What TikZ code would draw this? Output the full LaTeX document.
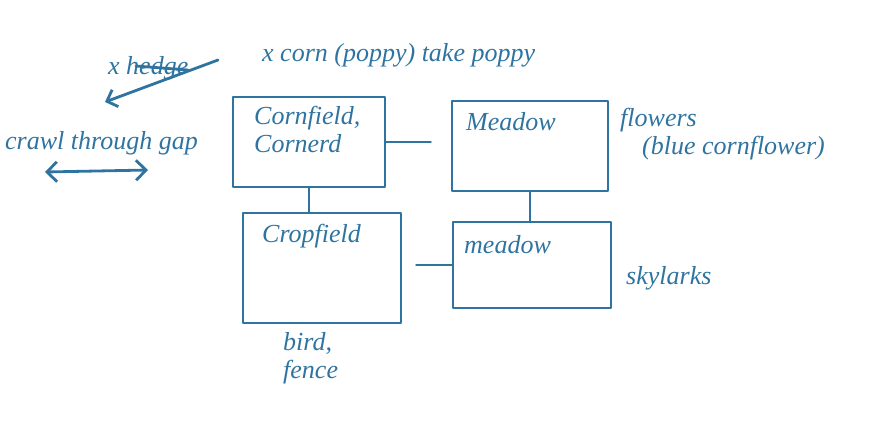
\documentclass[tikz,border=0pt]{standalone}
\usepackage{fontspec}
\setmainfont{Liberation Serif}
\usetikzlibrary{arrows.meta}
\definecolor{ink}{HTML}{2F74A0}
\begin{document}
\begin{tikzpicture}[x=1pt,y=-1pt,
  pen/.style={draw=ink,line width=2.8pt,line cap=round,line join=round},
  fieldbox/.style={pen,rectangle,inner sep=0pt},
  hand/.style={text=ink,font=\itshape\fontsize{26}{28}\selectfont,inner sep=0pt,align=left},
  wire/.style={pen}]
\useasboundingbox (0,0) rectangle (874,421);
% boxes
\node[fieldbox,minimum width=152pt,minimum height=90pt] (A) at (309,142) {};
\node[fieldbox,minimum width=156pt,minimum height=90pt] (B) at (530,146) {};
\node[fieldbox,minimum width=158pt,minimum height=110pt] (C) at (322,268) {};
\node[fieldbox,minimum width=158pt,minimum height=86pt] (D) at (532,265) {};
% box texts
\node[hand,anchor=north west] (At) at (254,106) {Cornfield,\\Cornerd};
\node[hand,anchor=north west] (Bt) at (466,112) {Meadow};
\node[hand,anchor=north west] (Ct) at (262,224) {Cropfield};
\node[hand,anchor=north west] (Dt) at (464,235) {meadow};
% connectors
\draw[wire] (A.east) -- ([xshift=-20pt]A.east -| B.west);
\draw[wire] (A.south) -- (A.south |- C.north);
\draw[wire] (B.south) -- (B.south |- D.north);
\draw[wire] ([xshift=14pt]C.east |- D.west) -- (D.west);
% outside labels
\node[hand,anchor=west] (top) at (262,55) {x corn (poppy) take poppy};
\node[hand,anchor=west] (hedge) at (108,68) {x hedge};
\coordinate (ha1) at (218,60);
\coordinate (ha2) at (105,102);
\draw[wire,-{Straight Barb[length=9pt]}] (ha1) -- (ha2);
\draw[wire] ([xshift=28pt,yshift=2pt]hedge.west) -- ([xshift=80pt,yshift=-2pt]hedge.west);
\node[hand,anchor=west] (gap) at (5,143) {crawl through gap};
\coordinate (g1) at (45,172);
\coordinate (g2) at (148,170);
\draw[wire,{Straight Barb[length=10pt]}-{Straight Barb[length=10pt]}] (g1) -- (g2);
\node[hand,anchor=north west] (flw) at (620,108) {flowers\\\hspace{22pt}(blue cornflower)};
\node[hand,anchor=west] (sky) at (626,278) {skylarks};
\node[hand,anchor=north west] (bird) at (283,332) {bird,\\fence};
\end{tikzpicture}
\end{document}
